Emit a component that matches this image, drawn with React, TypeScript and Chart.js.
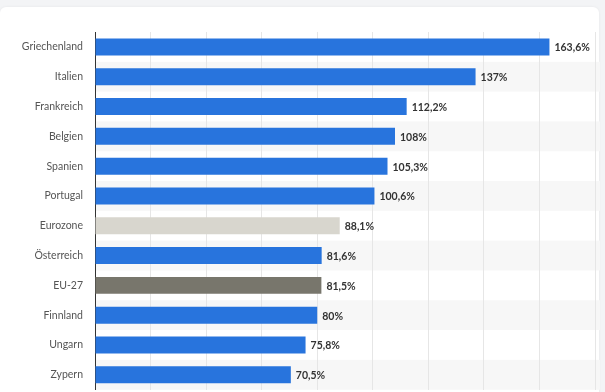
import React, { useEffect, useRef } from "react";
import { Chart, registerables } from "chart.js";

Chart.register(...registerables);

const categories = [
  "Griechenland", "Italien", "Frankreich", "Belgien", "Spanien", "Portugal",
  "Eurozone", "Österreich", "EU-27", "Finnland", "Ungarn", "Zypern",
];
const values = [163.6, 137, 112.2, 108, 105.3, 100.6, 88.1, 81.6, 81.5, 80, 75.8, 70.5];
const valueLabels = ["163,6%", "137%", "112,2%", "108%", "105,3%", "100,6%", "88,1%", "81,6%", "81,5%", "80%", "75,8%", "70,5%"];

const BLUE = "#2874dd";
const barColors = categories.map((c) =>
  c === "Eurozone" ? "#d8d6ce" : c === "EU-27" ? "#78766c" : BLUE
);

const FONT = "Lato, 'Open Sans', sans-serif";

const stripes = {
  id: "stripes",
  beforeDraw(chart: any) {
    const { ctx, chartArea } = chart;
    const y = chart.scales.y;
    const n = categories.length;
    const h = (chartArea.bottom - chartArea.top) / n;
    ctx.save();
    ctx.fillStyle = "#f7f7f7";
    for (let i = 0; i < n; i++) {
      if (i % 2 === 1) {
        const cy = y.getPixelForValue(i);
        ctx.fillRect(chartArea.left, cy - h / 2, 600 - chartArea.left, h);
      }
    }
    ctx.restore();
  },
};

const dataLabels = {
  id: "dataLabels",
  afterDatasetsDraw(chart: any) {
    const { ctx } = chart;
    const meta = chart.getDatasetMeta(0);
    ctx.save();
    ctx.font = `bold 10.5px ${FONT}`;
    ctx.fillStyle = "#333333";
    ctx.textAlign = "left";
    ctx.textBaseline = "middle";
    meta.data.forEach((bar: any, i: number) => {
      ctx.fillText(valueLabels[i], bar.x + 5, bar.y + 1);
    });
    ctx.restore();
  },
};

export default function App() {
  const ref = useRef<HTMLCanvasElement>(null);
  useEffect(() => {
    const chart = new Chart(ref.current!, {
      type: "bar",
      data: {
        labels: categories,
        datasets: [
          {
            data: values,
            backgroundColor: barColors,
            barPercentage: 0.57,
            categoryPercentage: 1,
          },
        ],
      },
      options: {
        indexAxis: "y",
        animation: false,
        responsive: false,
        maintainAspectRatio: false,
        layout: { padding: { top: 32, bottom: 2, right: 10, left: 0 } },
        plugins: { legend: { display: false }, tooltip: { enabled: false } },
        scales: {
          x: {
            min: 0,
            max: 180,
            ticks: { display: false, stepSize: 20, padding: 0 },
            grid: { color: "#e6e6e6", drawTicks: false, lineWidth: 1 },
            border: { display: false },
          },
          y: {
            ticks: {
              color: "#555555",
              font: { family: FONT, size: 10.5 },
              padding: 12,
            },
            grid: { display: false, drawTicks: false },
            border: { display: true, color: "#333333", width: 1 },
            afterFit(scale: any) {
              scale.width = 95;
            },
          },
        },
      },
      plugins: [stripes, dataLabels],
    });
    return () => chart.destroy();
  }, []);
  return (
    <div style={{ position: "fixed", left: 0, top: 0, width: 605, height: 392, background: "#f3f4f6", overflow: "hidden" }}>
      <div style={{ position: "absolute", left: 0, top: 7, width: 599, height: 400, background: "#ffffff", borderTopLeftRadius: 6, borderTopRightRadius: 6, boxShadow: "0 0 3px rgba(0,0,0,0.06)" }} />
      <canvas ref={ref} width={605} height={408} style={{ position: "absolute", left: 0, top: 0 }} />
    </div>
  );
}
